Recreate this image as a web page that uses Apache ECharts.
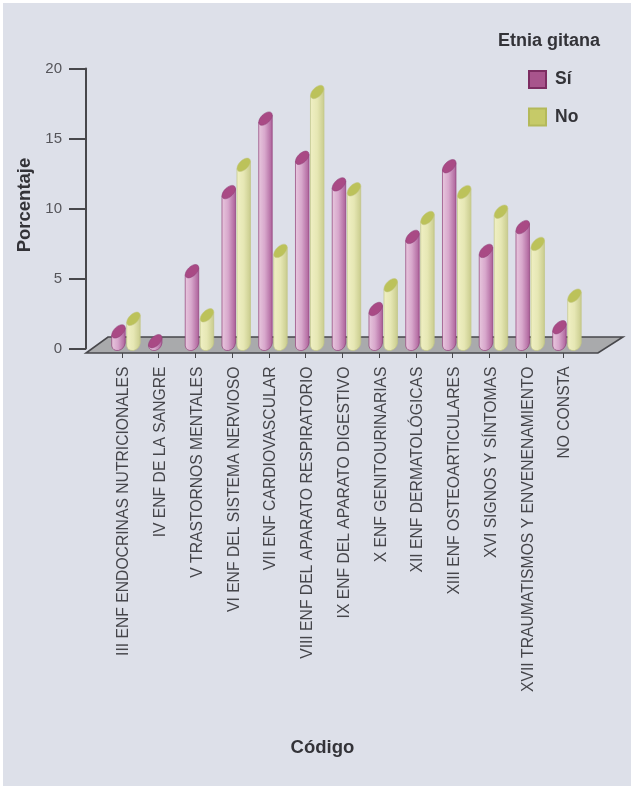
<!DOCTYPE html>
<html>
<head>
<meta charset="utf-8">
<style>
html,body{margin:0;padding:0;background:#fff}
#chart{position:absolute;left:3px;top:3px;width:628px;height:783px;background:#dde0e9}
</style>
<script src="https://cdn.jsdelivr.net/npm/echarts@6/dist/echarts.min.js"></script>
</head>
<body>
<div id="chart"></div>
<script>
const categories = [
  'III ENF ENDOCRINAS NUTRICIONALES','IV ENF DE LA SANGRE','V TRASTORNOS MENTALES',
  'VI ENF DEL SISTEMA NERVIOSO','VII ENF CARDIOVASCULAR','VIII ENF DEL APARATO RESPIRATORIO',
  'IX ENF DEL APARATO DIGESTIVO','X ENF GENITOURINARIAS','XII ENF DERMATOLÓGICAS',
  'XIII ENF OSTEOARTICULARES','XVI SIGNOS Y SÍNTOMAS','XVII TRAUMATISMOS Y ENVENENAMIENTO','NO CONSTA'
];
const valuesSi = [0.9, 0.2, 5.2, 10.85, 16.1, 13.3, 11.4, 2.5, 7.65, 12.7, 6.65, 8.35, 1.2];
const valuesNo = [1.8, null, 2.05, 12.8, 6.65, 18, 11.05, 4.2, 9, 10.85, 9.45, 7.15, 3.45];
const yTicks = [0, 5, 10, 15, 20];

// Pixel offsets of the pseudo-3D scene relative to the plotting area
const DEPTH = 4.5, BAR_W = 13.5;

function cylinder(side, bodyStops, topColor, edge) {
  return function (params, api) {
    const v = api.value(1);
    if (v == null || isNaN(v)) return null;
    const top = api.coord([api.value(0), v]);
    const base = api.coord([api.value(0), 0]);
    const cx = top[0] + 4 + side * 7.5;
    const r = BAR_W / 2;
    const yT = top[1] - DEPTH, yB = base[1] - DEPTH + 1;
    // Slanted cap: an ellipse tilted up towards the right
    const tilt = 0.785, rx = 8.3, ry = 4.6, capRise = 3.55;
    const body = [
      'M', cx - r, yT + capRise,
      'L', cx - r, yB + 1,
      'Q', cx - r + 1, yB + 6, cx, yB + 5.5,
      'Q', cx + r - 1, yB + 4, cx + r, yB - 2,
      'L', cx + r, yT - capRise,
      'Z'
    ].join(' ');
    return {
      type: 'group',
      children: [
        {
          type: 'path',
          shape: { pathData: body },
          style: {
            fill: new echarts.graphic.LinearGradient(0, 0, 1, 0, bodyStops),
            stroke: edge, lineWidth: 0.7
          }
        },
        {
          type: 'ellipse',
          x: cx, y: yT, rotation: tilt,
          shape: { cx: 0, cy: 0, rx: rx, ry: ry },
          style: { fill: topColor, stroke: edge, lineWidth: 0.5 }
        }
      ]
    };
  };
}

function floor(params, api) {
  const cs = params.coordSys;
  const y0 = api.coord([0, 0])[1] + 4.5;
  const l = cs.x - 17.6, r = cs.x + cs.width + 16.6;
  return {
    type: 'polygon',
    shape: { points: [[l, y0], [r, y0], [r + 25, y0 - 16], [l + 22, y0 - 16]] },
    style: { fill: '#a9aaac', stroke: '#47474b', lineWidth: 1.6 }
  };
}

const siStops = [
  { offset: 0, color: '#e8c8de' }, { offset: 0.45, color: '#d8a8cc' }, { offset: 1, color: '#ab5f99' }
];
const noStops = [
  { offset: 0, color: '#f0f0c4' }, { offset: 0.5, color: '#e6e7b4' }, { offset: 1, color: '#c8cb8c' }
];

const chart = echarts.init(document.getElementById('chart'), null, { renderer: 'canvas' });
chart.setOption({
  animation: false,
  backgroundColor: 'transparent',
  textStyle: { fontFamily: '"Liberation Sans", Arial, sans-serif' },
  title: {
    text: 'Etnia gitana', left: 490, top: 24,
    textStyle: { fontSize: 18, fontWeight: 'bold', color: '#333338' }
  },
  legend: {
    data: ['Sí', 'No'], orient: 'vertical', left: 520, top: 62,
    itemWidth: 17, itemHeight: 17, itemGap: 18.5, icon: 'rect',
    textStyle: { fontSize: 17.5, fontWeight: 'bold', color: '#333338', padding: [0, 0, 0, 4] }
  },
  grid: { left: 100.6, top: 65.5, width: 477.75, height: 280, containLabel: false },
  xAxis: {
    type: 'category', data: categories,
    name: 'Código', nameLocation: 'middle', nameGap: 390,
    nameTextStyle: { fontSize: 18.5, fontWeight: 'bold', color: '#333338', padding: [0, 40, 0, 0] },
    axisLine: { show: false },
    axisTick: { show: true, alignWithLabel: true, length: 9.5, lineStyle: { color: '#47474b', width: 1 } },
    axisLabel: {
      rotate: 90, interval: 0, margin: 18, fontSize: 15.7, color: '#45454a',
      verticalAlign: 'top', lineHeight: 4
    }
  },
  yAxis: {
    type: 'value', min: yTicks[0], max: yTicks[yTicks.length - 1], interval: 5,
    position: 'left', offset: 17.6,
    name: 'Porcentaje', nameLocation: 'middle', nameGap: 49, nameRotate: 90,
    nameTextStyle: { fontSize: 18.5, fontWeight: 'bold', color: '#333338', padding: [0, 0, 0, 7] },
    splitLine: { show: false },
    axisLine: { show: true, lineStyle: { color: '#47474b', width: 2 } },
    axisTick: { show: true, length: 17, lineStyle: { color: '#47474b', width: 2 } },
    axisLabel: { margin: 24, fontSize: 15, color: '#55555a' }
  },
  series: [
    { type: 'custom', name: 'Suelo', z: 1, silent: true, data: [[0, 0]], renderItem: floor },
    {
      type: 'custom', name: 'Sí', z: 3,
      itemStyle: { color: '#a8548c', borderColor: '#7d2d62', borderWidth: 1 },
      encode: { x: 0, y: 1 },
      data: valuesSi.map((v, i) => [i, v]),
      renderItem: cylinder(-1, siStops, '#a94a85', '#8f3f78')
    },
    {
      type: 'custom', name: 'No', z: 2,
      itemStyle: { color: '#c6ca68', borderColor: '#b4b95a', borderWidth: 1 },
      encode: { x: 0, y: 1 },
      data: valuesNo.map((v, i) => [i, v]),
      renderItem: cylinder(1, noStops, '#bcc25a', '#c2c585')
    }
  ]
});
</script>
</body>
</html>
